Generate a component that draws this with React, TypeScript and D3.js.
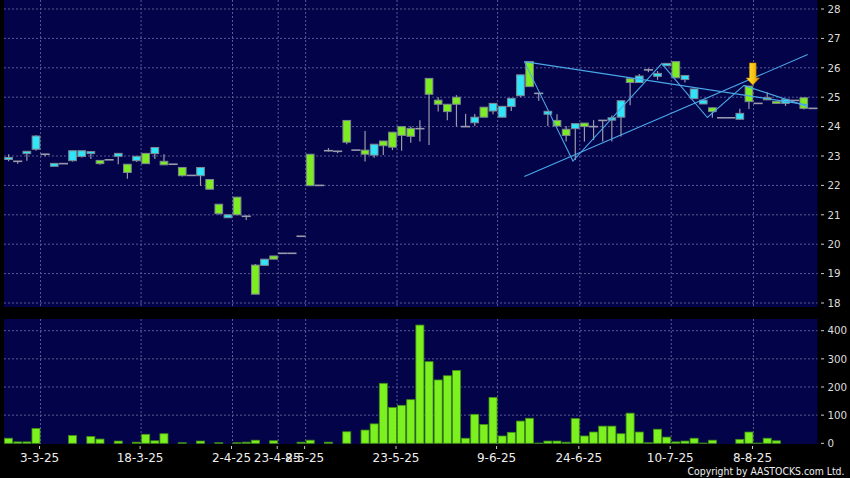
import React from 'react';
import * as d3 from 'd3';

// ---- DATA ----
const opens = [22.88,22.82,23.08,23.23,23.06,22.65,22.74,22.84,22.98,23.08,22.85,22.87,22.99,22.72,22.84,23.09,23.08,22.82,22.72,22.61,22.34,22.33,22.2,21.36,20.9,21.6,20.95,19.29,19.28,19.6,19.69,19.69,20.27,23.06,22.0,23.18,23.16,24.21,23.2,23.2,23.03,23.51,23.81,24.0,23.94,23.93,25.64,24.9,24.76,25.0,24.0,24.13,24.66,24.53,24.32,24.68,25.05,26.21,25.13,24.42,24.21,23.91,23.93,24.12,24.0,24.21,24.22,24.32,25.63,25.5,25.93,25.71,26.07,26.21,25.6,24.95,24.77,24.64,24.3,24.3,24.25,25.38,24.79,24.98,24.86,24.79,24.89,24.98,24.62];
const highs = [23.06,22.82,23.16,23.71,23.06,22.75,22.74,23.18,23.18,23.15,22.85,22.87,23.09,22.72,22.99,23.09,23.29,23.06,22.72,22.61,22.34,22.61,22.2,21.36,21.0,21.6,20.98,19.33,19.49,19.6,19.69,19.69,20.27,23.06,22.0,23.27,23.16,24.21,23.2,23.85,23.4,23.51,23.81,24.0,24.0,24.22,25.64,25.0,24.76,25.07,24.43,24.43,24.66,24.79,24.69,24.96,25.76,26.21,25.13,24.52,24.42,24.02,24.1,24.12,24.22,24.21,24.38,24.88,25.63,25.79,25.98,25.89,26.15,26.21,25.74,25.28,24.9,24.64,24.3,24.3,24.61,25.38,24.79,25.17,24.86,24.93,24.89,24.98,24.62];
const lows = [22.82,22.74,22.84,23.18,22.98,22.65,22.74,22.81,22.95,22.9,22.7,22.87,22.72,22.23,22.8,22.74,22.9,22.7,22.72,22.3,22.34,21.98,21.87,21.0,20.9,21.0,20.82,18.3,19.28,19.49,19.69,19.69,20.27,21.99,22.0,23.15,23.09,23.4,23.2,22.81,22.94,23.03,23.2,23.18,23.45,23.49,23.37,24.51,24.22,24.0,24.0,24.02,24.32,24.42,24.32,24.53,25.0,25.36,24.88,24.02,24.02,23.49,22.86,23.49,23.54,23.49,23.49,23.66,24.73,25.5,25.85,25.59,26.07,25.66,25.5,24.95,24.77,24.3,24.3,24.3,24.25,24.6,24.79,24.91,24.79,24.7,24.89,24.58,24.62];
const closes = [22.95,22.82,23.16,23.68,23.06,22.75,22.74,23.18,23.18,23.15,22.74,22.87,23.09,22.44,22.99,22.74,23.29,22.7,22.72,22.33,22.34,22.61,21.87,21.04,21.0,21.0,20.95,18.3,19.49,19.49,19.69,19.69,20.27,21.99,22.0,23.18,23.16,23.47,23.2,23.06,23.4,23.35,23.3,23.7,23.67,23.93,25.1,24.76,24.51,24.76,24.0,24.32,24.32,24.79,24.69,24.96,25.76,25.36,25.13,24.52,24.02,23.7,24.1,24.0,24.0,24.21,24.3,24.88,25.5,25.72,25.93,25.81,26.15,25.66,25.74,25.28,24.9,24.51,24.3,24.3,24.45,24.85,24.79,24.91,24.79,24.93,24.89,24.62,24.62];
const volumes = [18,5,5,53,0,0,0,28,0,24,15,0,8,0,4,32,9,34,0,2,0,8,0,2,0,2,4,11,0,9,0,0,4,11,0,4,0,41,0,47,69,213,127,135,155,420,290,225,240,259,18,103,67,163,26,39,79,89,1,8,8,4,88,26,40,61,61,34,107,40,2,50,22,5,8,18,1,11,0,0,14,40,1,18,9,0,0,0,0];

const tickIndex = [4, 15, 25, 30, 33, 43, 54, 63, 73, 82];
const tickLabels = ['3-3-25','18-3-25','2-4-25','23-4-25','8-5-25','23-5-25','9-6-25','24-6-25','10-7-25','8-8-25'];
const priceTicks = [18,19,20,21,22,23,24,25,26,27,28];
const volTicks = [0,100,200,300,400];

// trend lines (index, price)
const zigzagIdx = [56.43, 61.74, 71.46, 76.45, 80.46, 87.43];
const zigzagPrice = [26.21, 22.83, 26.14, 24.31, 25.40, 24.68];
const upLineIdx = [56.43, 87.43];
const upLinePrice = [22.30, 26.45];
const downLineIdx = [56.43, 87.43];
const downLinePrice = [26.21, 24.74];
const arrowIndex = 81;

const FONT = '"DejaVu Sans", Verdana, sans-serif';

export default function App() {
  const W = 850, H = 478;
  const n = opens.length;
  const plotLeft = 4, plotRight = 817.5;
  const priceTop = 0, priceBottom = 307;
  const volTop = 319, volBottom = 444;

  const x = d3.scaleLinear().domain([-0.5, n - 0.5]).range([plotLeft, plotRight]);
  const bw = x(1) - x(0);
  const yP = d3.scaleLinear().domain([18, 28]).range([303, 9]);
  const yV = d3.scaleLinear().domain([0, 400]).range([443.3, 330.7]);

  const gridColor = '#5a5a94';
  const wickColor = '#9a9aaa';
  const upColor = '#30e4fa';
  const downColor = '#7eec22';
  const bodyW = bw * 0.84;

  const line = d3.line<[number, number]>().x(d => x(d[0])).y(d => yP(d[1]));
  const zig: [number, number][] = zigzagIdx.map((v, k) => [v, zigzagPrice[k]]);
  const up: [number, number][] = upLineIdx.map((v, k) => [v, upLinePrice[k]]);
  const down: [number, number][] = downLineIdx.map((v, k) => [v, downLinePrice[k]]);

  const ax = x(arrowIndex) + bw * 0.42;
  const at = yP(highs[arrowIndex]) - 1;

  return (
    <svg width={W} height={H} style={{ position: 'absolute', left: 0, top: 0, background: '#000' }}>
      <defs>
        <linearGradient id="arrowGrad" x1="0" x2="1" y1="0" y2="0">
          <stop offset="0" stopColor="#ffe23a" />
          <stop offset="0.6" stopColor="#f5c010" />
          <stop offset="1" stopColor="#d88a00" />
        </linearGradient>
      </defs>
      <rect x={0} y={0} width={W} height={H} fill="#000" />
      {/* panels */}
      <rect x={plotLeft} y={priceTop} width={plotRight - plotLeft} height={priceBottom - priceTop} fill="#03034a" />
      <rect x={plotLeft} y={volTop} width={plotRight - plotLeft} height={volBottom - volTop} fill="#03034a" />

      {/* horizontal grid */}
      {priceTicks.map(t => (
        <line key={'pg' + t} x1={plotLeft} x2={plotRight} y1={yP(t)} y2={yP(t)} stroke={gridColor} strokeDasharray="2,2" strokeWidth={1} />
      ))}
      {volTicks.filter(t => t > 0).map(t => (
        <line key={'vg' + t} x1={plotLeft} x2={plotRight} y1={yV(t)} y2={yV(t)} stroke={gridColor} strokeDasharray="2,2" strokeWidth={1} />
      ))}
      {/* vertical grid */}
      {tickIndex.map(i => (
        <g key={'vx' + i}>
          <line x1={x(i - 0.5)} x2={x(i - 0.5)} y1={priceTop} y2={priceBottom} stroke={gridColor} strokeDasharray="2,2" />
          <line x1={x(i - 0.5)} x2={x(i - 0.5)} y1={volTop} y2={volBottom} stroke={gridColor} strokeDasharray="2,2" />
        </g>
      ))}

      {/* candles */}
      {opens.map((o, i) => {
        const c = closes[i], h = highs[i], l = lows[i];
        const cx = x(i);
        const els: any[] = [];
        if (h > l) {
          els.push(<line key="w" x1={cx} x2={cx} y1={yP(h)} y2={yP(l)} stroke={wickColor} strokeWidth={1.2} />);
        }
        if (o === c) {
          els.push(<line key="d" x1={cx - bw / 2} x2={cx + bw / 2} y1={yP(o)} y2={yP(o)} stroke={wickColor} strokeWidth={1.6} />);
        } else {
          const top = yP(Math.max(o, c));
          const bot = yP(Math.min(o, c));
          els.push(
            <rect key="b" x={cx - bodyW / 2} y={top} width={bodyW} height={Math.max(1.5, bot - top)}
              fill={c > o ? upColor : downColor} stroke="#7d8890" strokeWidth={1} />
          );
        }
        return <g key={'c' + i}>{els}</g>;
      })}

      {/* trend lines */}
      <path d={line(down) || ''} fill="none" stroke="#4aa6e6" strokeWidth={1.1} />
      <path d={line(up) || ''} fill="none" stroke="#4aa6e6" strokeWidth={1.1} />
      <path d={line(zig) || ''} fill="none" stroke="#4aa6e6" strokeWidth={1.1} />

      {/* arrow */}
      <path d={`M${ax - 3.3},${at - 22} L${ax + 3.3},${at - 22} L${ax + 3.3},${at - 7} L${ax + 6.6},${at - 7} L${ax},${at} L${ax - 6.6},${at - 7} L${ax - 3.3},${at - 7} Z`}
        fill="url(#arrowGrad)" stroke="#c98a00" strokeWidth={0.6} />

      {/* volume bars */}
      {volumes.map((v, i) => v > 0 ? (
        <rect key={'v' + i} x={x(i) - bw * 0.44} y={yV(v)} width={bw * 0.88} height={yV(0) - yV(v)}
          fill="#7df020" stroke="#3f8f12" strokeWidth={0.8} />
      ) : null)}

      {/* right axes */}
      {priceTicks.map(t => (
        <g key={'pl' + t}>
          <line x1={821} x2={824} y1={yP(t)} y2={yP(t)} stroke="#cccccc" />
          <text x={827.5} y={yP(t)} dy="0.36em" fill="#dddddd" fontSize={10.3} fontFamily={FONT}>{t}</text>
        </g>
      ))}
      {volTicks.map(t => (
        <g key={'vl' + t}>
          <line x1={821} x2={824} y1={yV(t)} y2={yV(t)} stroke="#cccccc" />
          <text x={827.5} y={yV(t)} dy="0.36em" fill="#dddddd" fontSize={10.3} fontFamily={FONT}>{t}</text>
        </g>
      ))}

      {/* date axis */}
      {tickIndex.map((i, k) => (
        <g key={'dt' + i}>
          <line x1={x(i - 0.5) - 1} x2={x(i - 0.5) - 1} y1={446} y2={449} stroke="#cccccc" />
          <text x={x(i - 0.5) - 1} y={461.5} textAnchor="middle" fill="#eeeeee" fontSize={12} fontFamily={FONT}>{tickLabels[k]}</text>
        </g>
      ))}

      <text x={844.5} y={474.5} textAnchor="end" fill="#eeeeee" fontSize={10.3} fontFamily={FONT}
        textLength={157} lengthAdjust="spacingAndGlyphs">Copyright by AASTOCKS.com Ltd.</text>
    </svg>
  );
}
